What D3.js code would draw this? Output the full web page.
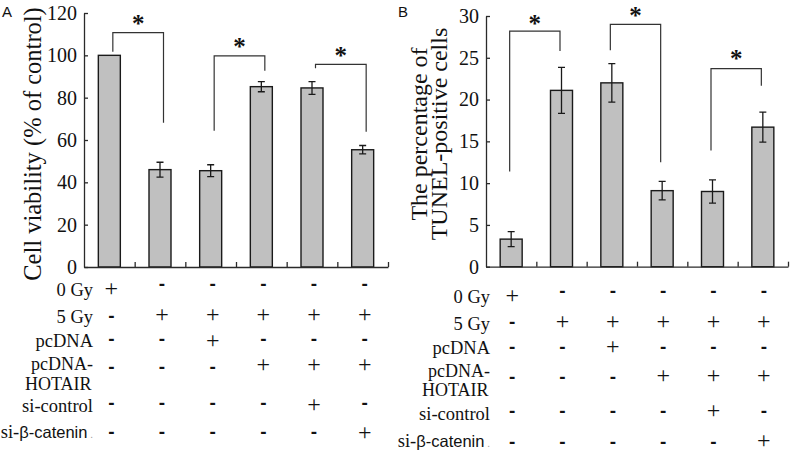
<!DOCTYPE html>
<html><head><meta charset="utf-8">
<script src="https://cdn.jsdelivr.net/npm/d3@7"></script>
<style>body{margin:0;background:#fff}svg{display:block}</style>
</head><body>
<script>
// ---------- data ----------
const groups = ["G1","G2","G3","G4","G5","G6"];
const viability = [100, 46, 45.5, 85.2, 84.6, 55.4];
const viabilityErr = [0, 3.5, 2.8, 2.4, 3.0, 2.0];
const tunel = [3.3, 21.1, 22.0, 9.1, 9.0, 16.7];
const tunelErr = [0.9, 2.75, 2.3, 1.1, 1.4, 1.8];
const viabilityTicks = [0, 20, 40, 60, 80, 100, 120];
const tunelTicks = [0, 5, 10, 15, 20, 25, 30];
// brackets: [leftGroup, rightGroup, leftEnd, top, rightEnd, starY] in data units
const viabilityBrackets = [[0,1,101.7,110.7,68.2,116.7],[2,3,64.4,99.7,92.7,105.8],[4,5,93.9,95.7,63.9,101.7]];
const tunelBrackets = [[0,1,11.4,28.2,25.8,29.5],[2,3,25.9,29.0,12.5,30.5],[4,5,13.9,23.7,21.65,25.3]];
const rowLabels = ["0 Gy","5 Gy","pcDNA","pcDNA-|HOTAIR","si-control","si-β-catenin"];
const treatment = [
  ["+","-","-","-","-","-"],
  ["-","+","+","+","+","+"],
  ["-","-","+","-","-","-"],
  ["-","-","-","+","+","+"],
  ["-","-","-","-","+","-"],
  ["-","-","-","-","-","+"]
];

// ---------- layout ----------
const W = 793, H = 454;
const svg = d3.select("body").append("svg").attr("width", W).attr("height", H);
const serif = "'Liberation Serif','Times New Roman',serif";
const sans = "'Liberation Sans',Arial,sans-serif";
const axisColor = "#2a2a2a";

function panel(cfg) {
  const x = d3.scaleBand().domain(groups).range([cfg.x0, cfg.x1]).padding(0);
  const xb = d3.scaleLinear().domain([0, 6]).range([cfg.x0, cfg.x1]);
  const y = d3.scaleLinear().domain([0, cfg.ymax]).range([cfg.y0, cfg.ytop]);
  const g = svg.append("g");
  const cx = i => x(groups[i]) + x.bandwidth() / 2;

  // bars
  g.selectAll("rect.bar").data(cfg.values).join("rect")
    .attr("x", (d, i) => cx(i) - 11).attr("width", 22)
    .attr("y", d => y(d)).attr("height", d => y(0) - y(d))
    .attr("fill", "#c0c0c0").attr("stroke", "#1a1a1a").attr("stroke-width", 1.4);
  // error bars
  cfg.values.forEach((v, i) => {
    const e = cfg.errs[i];
    if (!e) return;
    const c = cx(i);
    g.append("path").attr("d",
      `M${c},${y(v + e)}V${y(v - e)}M${c - 3.5},${y(v + e)}H${c + 3.5}M${c - 3.5},${y(v - e)}H${c + 3.5}`)
      .attr("stroke", "#1a1a1a").attr("stroke-width", 1.3).attr("fill", "none");
  });

  // y axis
  const ya = g.append("g").attr("transform", `translate(${cfg.x0},0)`)
    .call(d3.axisLeft(y).tickValues(cfg.ticks).tickSizeInner(-4).tickSizeOuter(0).tickPadding(7).tickFormat(d3.format("d")));
  ya.select(".domain").attr("stroke", axisColor).attr("stroke-width", 1.3);
  ya.selectAll(".tick line").attr("stroke", axisColor).attr("stroke-width", 1.3);
  ya.selectAll(".tick text").attr("font-family", serif).attr("font-size", 20).attr("fill", "#111");
  // x axis
  const xa = g.append("g").attr("transform", `translate(0,${cfg.y0})`)
    .call(d3.axisBottom(xb).tickValues([1, 2, 3, 4, 5, 6]).tickSizeInner(-5).tickSizeOuter(0).tickFormat(""));
  xa.select(".domain").attr("stroke", axisColor).attr("stroke-width", 1.3);
  xa.selectAll(".tick line").attr("stroke", axisColor).attr("stroke-width", 1.3);

  // brackets
  cfg.brackets.forEach(b => {
    const xl = cx(b[0]) + cfg.bOff, xr = cx(b[1]) + cfg.bOff;
    g.append("path").attr("d", `M${xl},${y(b[2])}V${y(b[3])}H${xr}V${y(b[4])}`)
      .attr("fill", "none").attr("stroke", "#333").attr("stroke-width", 1.2);
    g.append("text").attr("x", (xl + xr) / 2).attr("y", y(b[5]) + 12)
      .attr("text-anchor", "middle").attr("font-family", serif).attr("font-weight", "bold")
      .attr("font-size", 25).attr("fill", "#111").text("*");
  });

  // y label
  const yl = g.append("text").attr("transform", `translate(${cfg.ylx},${cfg.yly}) rotate(-90)`)
    .attr("text-anchor", "middle").attr("font-family", serif).attr("font-size", cfg.ylSize).attr("fill", "#111");
  cfg.ylabel.forEach((t, k) => yl.append("tspan").attr("x", 0).attr("dy", k === 0 ? 0 : cfg.ylGap).text(t));

  // panel letter
  g.append("text").attr("x", cfg.letterX).attr("y", 17).attr("font-family", sans)
    .attr("font-size", 15).attr("fill", "#111").text(cfg.letter);

  // treatment table
  rowLabels.forEach((lab, r) => {
    const lb = cfg.labelBase[r];
    if (lab.includes("|")) {
      const parts = lab.split("|");
      g.append("text").attr("x", cfg.labelX).attr("y", lb[0]).attr("text-anchor", "end")
        .attr("font-family", serif).attr("font-size", 18).attr("fill", "#111").text(parts[0]);
      g.append("text").attr("x", cfg.labelX - 1.5).attr("y", lb[1]).attr("text-anchor", "end")
        .attr("font-family", serif).attr("font-size", 18).attr("fill", "#111").text(parts[1]);
    } else {
      const t = g.append("text").attr("x", cfg.labelX).attr("y", lb).attr("text-anchor", "end")
        .attr("font-family", serif).attr("font-size", 18.5).attr("fill", "#111");
      if (lab.startsWith("si-β")) {
        t.append("tspan").text("si-");
        t.append("tspan").attr("font-family", sans).attr("font-size", 16.5).text("β-catenin");
        t.append("tspan").attr("font-family", sans).attr("font-size", 10).attr("fill", "#999").text(" .");
      } else {
        t.text(lab);
      }
    }
    treatment[r].forEach((s, c) => {
      const sx = cx(c) + cfg.symOff;
      if (s === "+") {
        g.append("text").attr("x", sx).attr("y", cfg.plusY[r] + 6.5).attr("text-anchor", "middle")
          .attr("font-family", serif).attr("font-size", 24).attr("fill", "#111").text("+");
      } else {
        g.append("text").attr("x", sx).attr("y", cfg.minusY[r] + 5).attr("text-anchor", "middle")
          .attr("font-family", sans).attr("font-weight", "bold").attr("font-size", 19).attr("fill", "#111").text("-");
      }
    });
  });
}

panel({
  x0: 84, x1: 388, y0: 267, ytop: 13, ymax: 120, ticks: viabilityTicks,
  values: viability, errs: viabilityErr, brackets: viabilityBrackets, bOff: 3.5,
  ylabel: ["Cell viability (% of control)"], ylx: 41, yly: 144, ylSize: 24.5, ylGap: 0,
  letter: "A", letterX: 2, labelX: 93, symOff: 2,
  labelBase: [296, 323, 347, [370, 389.5], 411.5, 438],
  plusY: [289, 315, 341, 365, 405, 433.5],
  minusY: [285, 316.5, 340, 368, 404, 433]
});
panel({
  x0: 486, x1: 788, y0: 266.7, ytop: 16, ymax: 30, ticks: tunelTicks,
  values: tunel, errs: tunelErr, brackets: tunelBrackets, bOff: -1.5,
  ylabel: ["The percentage of", "TUNEL-positive cells"], ylx: 427, yly: 134, ylSize: 24, ylGap: 20,
  letter: "B", letterX: 398, labelX: 490, symOff: 1,
  labelBase: [303, 330, 353.5, [376.5, 396], 420, 446.5],
  plusY: [296, 322.5, 347.5, 376, 411, 441],
  minusY: [291.5, 323, 348, 378, 411.5, 443]
});
</script>
</body></html>
